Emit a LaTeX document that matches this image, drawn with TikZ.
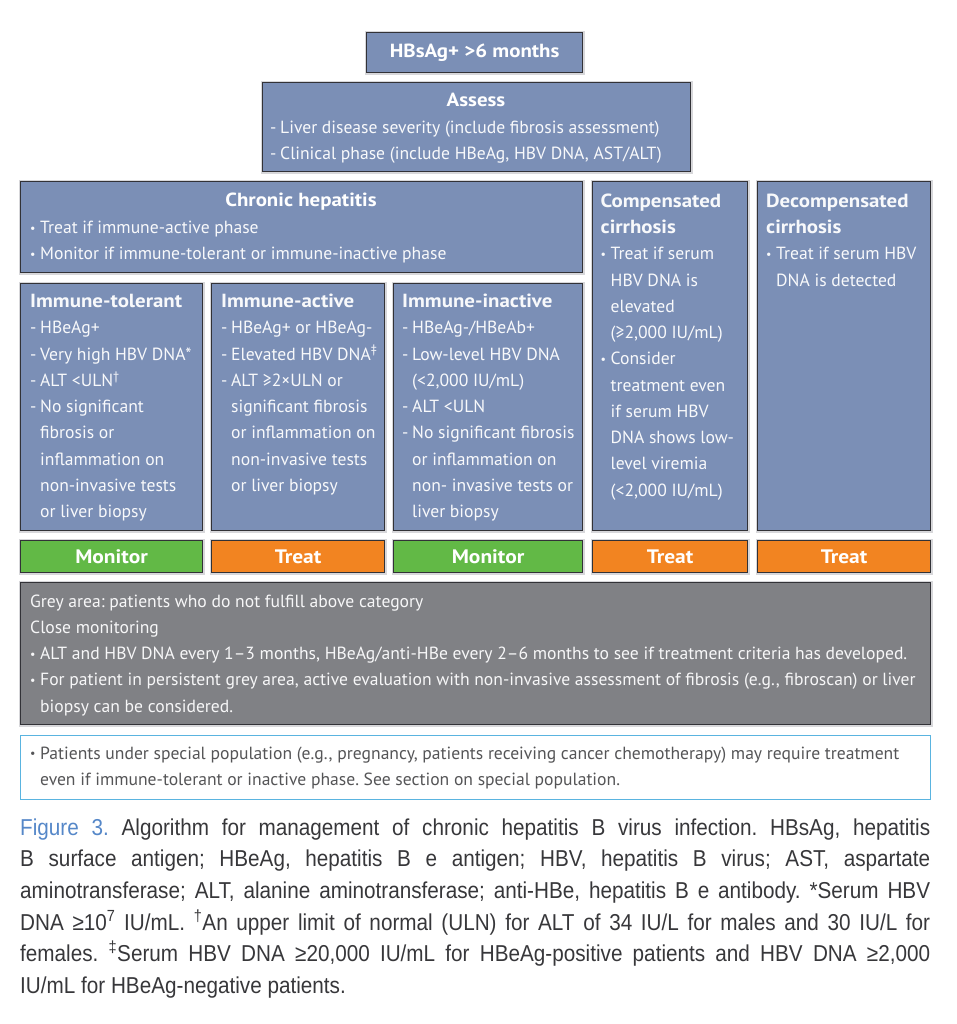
\documentclass[tikz,border=0pt]{standalone}
\usepackage{fontspec}
\setmainfont{PT Sans}[BoldFeatures={FakeStretch=1.1}]
\newfontfamily\capfont[FakeStretch=0.9]{Liberation Sans}
\usepackage{xcolor}
\usetikzlibrary{positioning}
\frenchspacing

\definecolor{boxblue}{RGB}{123,143,182}
\definecolor{boxline}{RGB}{50,50,55}
\definecolor{haze}{RGB}{215,215,218}
\definecolor{mongreen}{RGB}{98,185,70}
\definecolor{treatorange}{RGB}{242,132,33}
\definecolor{greyarea}{RGB}{128,129,133}
\definecolor{noteblue}{RGB}{90,180,224}
\definecolor{captext}{RGB}{55,55,58}
\definecolor{figblue}{RGB}{85,135,200}

\newcommand{\dsh}{\makebox[10pt][l]{-}}
\newcommand{\bul}{\makebox[10pt][l]{\raisebox{1.2pt}{\fontsize{12}{12}\selectfont •}}}
\newcommand{\indnt}{\hspace*{10pt}}
\newcommand{\hdg}[1]{{\fontsize{19}{26.25}\selectfont\bfseries #1}}

\begin{document}
\begin{tikzpicture}[x=1pt, y=-1pt]
			\tikzstyle{bluebox}=[
			draw=boxline,
			fill=boxblue,
			line width=1.2pt,
			preaction={draw=haze, line width=4pt},
			anchor=north west,
			inner sep=0pt
			]
			\tikzstyle{actbox}=[
			bluebox,
			minimum height=32pt,
			text=white,
			font=\fontsize{19.5}{20}\selectfont\bfseries
			]
			\tikzstyle{boxtext}=[
			anchor=north west,
			inner sep=0pt,
			align=left,
			text=white!95!boxblue,
			font=\fontsize{17.6}{26.25}\selectfont
			]
			\tikzstyle{heading}=[
			anchor=base,
			inner sep=0pt,
			text=white,
			font=\fontsize{19}{20}\selectfont\bfseries
			]
			\useasboundingbox (0,0) rectangle (957,1024);
			% top of the algorithm
			\node[bluebox, minimum width=216pt, minimum height=40pt] (HBSAG) at (366,32) {};
			\node[heading, anchor=center] (HBSAGT) at (HBSAG.center) {HBsAg+ >6 months};
			\node[bluebox, minimum width=428pt, minimum height=89pt] (ASSESS) at (262,82) {};
			\node[heading] (ASSESSH) at (476,107) {Assess};
			\node[boxtext] (ASSESST) at ([xshift=8pt, yshift=-32.6pt]ASSESS.north west)
				{\strut\dsh Liver disease severity (include fibrosis assessment)\\
				\dsh Clinical phase (include HBeAg, HBV DNA, AST/ALT)};
			% clinical phases
			\node[bluebox, minimum width=562pt, minimum height=91pt] (CHRONIC) at (20,181) {};
			\node[heading] (CHRONICH) at (301,207) {Chronic hepatitis};
			\node[boxtext] (CHRONICT) at ([xshift=10pt, yshift=-34pt]CHRONIC.north west)
				{\strut\bul Treat if immune-active phase\\
				\bul Monitor if immune-tolerant or immune-inactive phase};
			\node[bluebox, minimum width=155pt, minimum height=349pt] (COMP) at (592,181) {};
			\node[boxtext] (COMPT) at ([xshift=8.5pt, yshift=-7.8pt]COMP.north west)
				{\strut\hdg{Compensated}\\
				\hdg{cirrhosis}\\
				\bul Treat if serum\\
				\indnt HBV DNA is\\
				\indnt elevated\\
				\indnt (≥2,000 IU/mL)\\
				\bul Consider\\
				\indnt treatment even\\
				\indnt if serum HBV\\
				\indnt DNA shows low-\\
				\indnt level viremia\\
				\indnt (<2,000 IU/mL)};
			\node[bluebox, minimum width=173pt, minimum height=349pt] (DECOMP) at (757,181) {};
			\node[boxtext] (DECOMPT) at ([xshift=9pt, yshift=-7.8pt]DECOMP.north west)
				{\strut\hdg{Decompensated}\\
				\hdg{cirrhosis}\\
				\bul Treat if serum HBV\\
				\indnt DNA is detected};
			\node[bluebox, minimum width=182pt, minimum height=247pt] (TOL) at (20,283) {};
			\node[boxtext] (TOLT) at ([xshift=10pt, yshift=-6pt]TOL.north west)
				{\strut\hdg{Immune-tolerant}\\
				\dsh HBeAg+\\
				\dsh Very high HBV DNA*\\
				\dsh ALT <ULN\textsuperscript{†}\\
				\dsh No significant\\
				\indnt fibrosis or\\
				\indnt inflammation on\\
				\indnt non-invasive tests\\
				\indnt or liver biopsy};
			\node[bluebox, minimum width=173pt, minimum height=247pt] (ACT) at (211,283) {};
			\node[boxtext] (ACTT) at ([xshift=10pt, yshift=-6pt]ACT.north west)
				{\strut\hdg{Immune-active}\\
				\dsh HBeAg+ or HBeAg-\\
				\dsh Elevated HBV DNA\textsuperscript{‡}\\
				\dsh ALT ≥2×ULN or\\
				\indnt significant fibrosis\\
				\indnt or inflammation on\\
				\indnt non-invasive tests\\
				\indnt or liver biopsy};
			\node[bluebox, minimum width=189pt, minimum height=247pt] (INACT) at (393,283) {};
			\node[boxtext] (INACTT) at ([xshift=9pt, yshift=-6pt]INACT.north west)
				{\strut\hdg{Immune-inactive}\\
				\dsh HBeAg-/HBeAb+\\
				\dsh Low-level HBV DNA\\
				\indnt (<2,000 IU/mL)\\
				\dsh ALT <ULN\\
				\dsh No significant fibrosis\\
				\indnt or inflammation on\\
				\indnt non- invasive tests or\\
				\indnt liver biopsy};
			% decisions
			\node[actbox, fill=mongreen, minimum width=182pt] (MON1) at (20,540) {Monitor};
			\node[actbox, fill=treatorange, minimum width=173pt] (TRT1) at (211,540) {Treat};
			\node[actbox, fill=mongreen, minimum width=189pt] (MON2) at (393,540) {Monitor};
			\node[actbox, fill=treatorange, minimum width=155pt] (TRT2) at (592,540) {Treat};
			\node[actbox, fill=treatorange, minimum width=173pt] (TRT3) at (757,540) {Treat};
			% grey area and note
			\node[bluebox, fill=greyarea, minimum width=910pt, minimum height=142pt] (GREY) at (20,582) {};
			\node[boxtext, text=white!94!greyarea] (GREYT) at ([xshift=10pt, yshift=-6.6pt]GREY.north west)
				{\strut Grey area: patients who do not fulfill above category\\
				Close monitoring\\
				\bul ALT and HBV DNA every 1–3 months, HBeAg/anti-HBe every 2–6 months to see if treatment criteria has developed.\\
				\bul For patient in persistent grey area, active evaluation with non-invasive assessment of fibrosis (e.g., fibroscan) or liver\\
				\indnt biopsy can be considered.};
			\node[draw=noteblue, fill=white, line width=1.2pt, anchor=north west, inner sep=0pt,
				minimum width=910pt, minimum height=64pt] (NOTE) at (20,735) {};
			\node[boxtext, text=captext!85!white] (NOTET) at ([xshift=10pt, yshift=-5.6pt]NOTE.north west)
				{\strut\bul Patients under special population (e.g., pregnancy, patients receiving cancer chemotherapy) may require treatment\\
				\indnt even if immune-tolerant or inactive phase. See section on special population.};
			% caption
			\node[anchor=north west, inner sep=0pt, text width=910pt, align=justify, text=captext,
				font=\capfont\fontsize{23}{31.6}\selectfont\frenchspacing] (CAPTION) at (20,813)
				{\strut{\color{figblue}Figure 3.} Algorithm for management of chronic hepatitis B virus infection. HBsAg, hepatitis\linebreak
				B surface antigen; HBeAg, hepatitis B e antigen; HBV, hepatitis B virus; AST, aspartate\linebreak
				aminotransferase; ALT, alanine aminotransferase; anti-HBe, hepatitis B e antibody. *Serum HBV\linebreak
				DNA ≥10\textsuperscript{7} IU/mL. \textsuperscript{†}An upper limit of normal (ULN) for ALT of 34 IU/L for males and 30 IU/L for\linebreak
				females. \textsuperscript{‡}Serum HBV DNA ≥20,000 IU/mL for HBeAg-positive patients and HBV DNA ≥2,000\linebreak
				IU/mL for HBeAg-negative patients.};
		\end{tikzpicture}
\end{document}
